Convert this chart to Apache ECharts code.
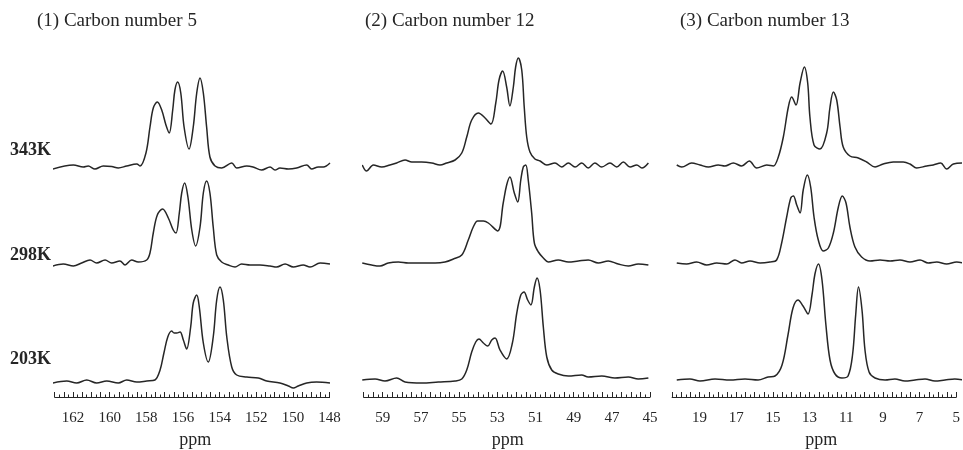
<!DOCTYPE html>
<html><head><meta charset="utf-8">
<script src="https://cdn.jsdelivr.net/npm/echarts@6/dist/echarts.min.js"></script>
<style>html,body{margin:0;padding:0;background:#fff}#c{width:963px;height:450px}</style>
</head><body><div id="c"></div>
<script>
// ---- data: [ppm, intensity] ----
const c5_343K = [[163.1,-1],[161.98,3],[161.44,1],[161.17,2],[160.80,-1],[160.35,2],[159.89,1.5],[159.53,0],[159.07,2],[158.52,4],[158.34,2],[158.02,15],[157.80,41],[157.62,60],[157.40,66],[157.16,58],[156.93,43],[156.75,35],[156.56,58],[156.44,78],[156.29,86],[156.12,75],[155.94,41],[155.67,19],[155.44,41],[155.25,75],[155.07,90],[154.89,75],[154.71,41],[154.53,11],[154.25,2],[153.89,0],[153.34,5],[153.07,0],[152.52,2],[152.18,1],[151.71,-2],[151.25,1],[150.98,-2],[150.71,0],[150.25,-1],[149.80,0],[149.25,3],[148.98,-1],[148.62,1],[148.34,1],[147.98,5]];
const c5_298K = [[163.1,-1],[162.53,1],[161.98,-1],[161.53,2],[161.07,5],[160.71,2],[160.25,5],[159.89,2],[159.44,4],[159.16,0],[158.80,5],[158.44,3],[157.98,5],[157.80,12],[157.62,32],[157.40,50],[157.11,56],[156.80,47],[156.53,35],[156.38,32],[156.20,52],[156.07,72],[155.91,82],[155.73,68],[155.52,35],[155.31,19],[155.07,38],[154.89,72],[154.71,84],[154.53,72],[154.35,38],[154.16,10],[153.89,3],[153.53,0],[153.16,-2],[152.80,1],[152.34,0],[151.80,0],[151.25,-1],[150.89,-2],[150.43,1],[149.98,-2],[149.44,0],[149.07,-2],[148.52,2],[147.98,1]];
const c5_203K = [[163.1,-1],[162.34,1],[161.80,-1],[161.25,2],[160.71,-1],[160.16,1],[159.53,-1],[159.07,2],[158.52,0],[157.98,1],[157.53,2],[157.25,12],[157.04,29],[156.83,45],[156.62,51],[156.48,49],[156.34,49],[156.16,50],[155.98,42],[155.80,33],[155.58,55],[155.44,79],[155.25,87],[155.11,75],[154.89,39],[154.62,20],[154.35,45],[154.16,82],[153.98,95],[153.80,82],[153.61,45],[153.34,15],[153.07,7],[152.52,5],[151.89,4],[151.43,1],[150.71,-1],[150.25,-4],[149.98,-6],[149.71,-4],[149.25,-1],[148.71,0],[147.98,-1]];

const c12_343K = [[60.07,0],[59.84,-6],[59.49,0],[59.05,-2],[58.62,0],[58.27,2],[57.83,5],[57.48,3],[56.96,3],[56.43,2],[56.00,0],[55.65,2],[55.21,5],[54.86,12],[54.60,28],[54.34,45],[53.99,52],[53.64,47],[53.33,41],[53.08,62],[52.91,85],[52.72,94],[52.51,78],[52.34,59],[52.16,78],[52.04,98],[51.90,107],[51.72,95],[51.59,58],[51.46,28],[51.29,13],[51.03,6],[50.76,4],[50.41,0],[49.98,2],[49.63,-2],[49.28,2],[48.93,-2],[48.58,2],[48.24,-3],[47.89,2],[47.53,-2],[47.10,2],[46.75,-2],[46.40,3],[46.05,-2],[45.70,0],[45.43,-3],[45.09,2]];
const c12_298K = [[60.07,0],[59.58,-2],[59.14,-3],[58.71,0],[58.18,1],[57.66,0],[56.96,0],[56.26,0],[55.74,1],[55.30,4],[54.86,8],[54.52,23],[54.26,36],[54.03,42],[53.73,42],[53.47,40],[52.98,32],[52.69,60],[52.51,78],[52.34,86],[52.11,70],[51.93,61],[51.77,83],[51.64,96],[51.51,98],[51.38,83],[51.20,50],[51.06,20],[50.85,11],[50.59,5],[50.33,1],[49.81,3],[49.28,1],[48.76,2],[48.24,3],[47.71,0],[47.19,2],[46.67,-1],[46.14,-3],[45.62,-1],[45.09,-2]];
const c12_203K = [[60.07,0],[59.40,1],[58.88,-1],[58.27,2],[57.83,-2],[56.96,-3],[56.09,-2],[55.21,-1],[54.86,1],[54.60,10],[54.34,28],[54.13,38],[53.96,41],[53.73,37],[53.50,34],[53.29,40],[53.12,42],[52.86,30],[52.51,21],[52.21,37],[51.98,67],[51.77,85],[51.60,88],[51.41,80],[51.24,75],[51.06,93],[50.92,102],[50.76,90],[50.59,53],[50.41,23],[50.15,10],[49.81,6],[49.28,4],[48.58,5],[48.24,3],[47.53,4],[46.84,2],[46.14,3],[45.62,1],[45.09,2]];

const c13_343K = [[20.25,0],[19.98,-2],[19.45,2],[19.00,0],[18.55,-2],[18.02,0],[17.66,-1],[17.21,2],[16.76,-1],[16.35,4],[15.95,-3],[15.41,0],[15.06,-1],[14.79,8],[14.52,28],[14.25,58],[14.07,68],[13.84,60],[13.62,82],[13.39,98],[13.21,82],[13.09,48],[12.87,20],[12.55,16],[12.19,32],[12.01,58],[11.83,73],[11.65,65],[11.47,38],[11.30,18],[10.94,9],[10.49,7],[10.04,3],[9.59,-2],[9.15,1],[8.61,3],[8.07,3],[7.71,1],[7.35,-3],[6.81,-1],[6.46,0],[6.06,2],[5.74,-4],[5.38,1],[4.84,2]];
const c13_298K = [[20.25,0],[19.72,-1],[19.18,1],[18.64,-2],[18.10,0],[17.56,-1],[17.12,3],[16.76,0],[16.31,2],[15.77,0],[15.24,1],[14.88,3],[14.61,20],[14.34,46],[14.12,65],[13.98,67],[13.80,58],[13.62,50],[13.45,73],[13.23,88],[13.05,76],[12.87,46],[12.64,23],[12.37,12],[12.10,15],[11.83,30],[11.56,56],[11.35,67],[11.15,60],[10.94,36],[10.67,16],[10.31,6],[9.86,2],[9.32,3],[8.78,2],[8.25,3],[7.71,1],[7.17,3],[6.73,0],[6.27,1],[5.74,-1],[5.20,1],[4.84,0]];
const c13_203K = [[20.25,0],[19.54,1],[19.00,-1],[18.19,1],[17.39,0],[16.58,1],[15.88,0],[15.34,3],[14.97,4],[14.59,15],[14.27,45],[14.00,72],[13.73,80],[13.46,74],[13.19,66],[12.98,85],[12.82,106],[12.63,116],[12.44,100],[12.23,55],[12.01,20],[11.74,6],[11.37,2],[11.04,4],[10.80,25],[10.63,65],[10.48,93],[10.29,70],[10.13,30],[9.91,8],[9.59,2],[9.05,0],[8.52,1],[7.98,-1],[7.44,0],[6.90,1],[6.37,-1],[5.83,0],[5.30,1],[4.84,0]];

const panelTitles = ['(1) Carbon number 5', '(2) Carbon number 12', '(3) Carbon number 13'];
const temperatures = ['343K', '298K', '203K'];
const tickLabels1 = [162, 160, 158, 156, 154, 152, 150, 148];
const tickLabels2 = [59, 57, 55, 53, 51, 49, 47, 45];
const tickLabels3 = [19, 17, 15, 13, 11, 9, 7, 5];
const axisName = 'ppm';
const ppmRanges = [[148, 163], [45, 60], [5, 20.5]];

// ---- layout ----
const panelData = [[c5_343K, c5_298K, c5_203K], [c12_343K, c12_298K, c12_203K], [c13_343K, c13_298K, c13_203K]];
const tickLabels = [tickLabels1, tickLabels2, tickLabels3];
const panelLeft = [54.67, 363.6, 672.1];
const panelWidth = [274.95, 286.5, 288.3];
const baselines = [[168, 265, 382], [165, 263, 380], [165, 263, 380]];
const titleLeft = [37, 365, 680];
const tempTop = [141, 246, 350];
const axisY = 398;
const namePad = [[0,0,0,6], [0,0,0,2], [0,0,0,14]];
const FONT = '"Liberation Serif", "Times New Roman", serif';
const INK = '#262626';

const grid = [], xAxis = [], yAxis = [], series = [];
for (let p = 0; p < 3; p++) {
  const [mn, mx] = ppmRanges[p];
  for (let t = 0; t < 3; t++) {
    const gi = grid.length;
    grid.push({ left: panelLeft[p], width: panelWidth[p], top: baselines[p][t] - 130, height: 140 });
    xAxis.push({ type: 'value', gridIndex: gi, min: mn, max: mx, inverse: true, show: false });
    yAxis.push({ type: 'value', gridIndex: gi, min: -10, max: 130, show: false });
    series.push({
      type: 'line', name: temperatures[t], xAxisIndex: xAxis.length - 1, yAxisIndex: yAxis.length - 1,
      data: panelData[p][t], smooth: 0.35, symbol: 'none', showSymbol: false, clip: false,
      lineStyle: { color: INK, width: 1.5 }, silent: true
    });
  }
  const gi = grid.length;
  grid.push({ left: panelLeft[p], width: panelWidth[p], top: axisY - 100, height: 100 });
  yAxis.push({ type: 'value', gridIndex: gi, min: 0, max: 1, show: false });
  xAxis.push({
    type: 'value', gridIndex: gi, min: mn, max: mx, inverse: true, interval: 0.25, position: 'bottom',
    axisLine: { show: true, lineStyle: { color: INK, width: 1 } },
    axisTick: { show: true, inside: true, length: 2.5, lineStyle: { color: INK, width: 1 } },
    axisLabel: { show: false }, splitLine: { show: false }
  });
  const labs = tickLabels[p];
  xAxis.push({
    type: 'value', gridIndex: gi, min: mn, max: mx, inverse: true, interval: 0.5, position: 'bottom',
    axisLine: { show: false },
    axisTick: { show: true, inside: true, length: 5, lineStyle: { color: INK, width: 1 } },
    axisLabel: { show: true, margin: 14, fontFamily: FONT, fontSize: 15, color: INK,
      formatter: v => (labs.indexOf(v) >= 0 ? String(v) : '') },
    splitLine: { show: false },
    name: axisName, nameLocation: 'middle', nameGap: 34,
    nameTextStyle: { fontFamily: FONT, fontSize: 18, color: INK, padding: namePad[p] }
  });
}

const title = [];
for (let p = 0; p < 3; p++) {
  title.push({ text: panelTitles[p], left: titleLeft[p], top: 12, padding: 0,
    textStyle: { fontFamily: FONT, fontSize: 19, fontWeight: 'normal', color: INK } });
}
for (let t = 0; t < 3; t++) {
  title.push({ text: temperatures[t], left: 10, top: tempTop[t], padding: 0,
    textStyle: { fontFamily: FONT, fontSize: 18, fontWeight: 'bold', color: INK } });
}

const chart = echarts.init(document.getElementById('c'), null, { renderer: 'canvas' });
chart.setOption({ animation: false, backgroundColor: '#fff', title, grid, xAxis, yAxis, series });
</script></body></html>
